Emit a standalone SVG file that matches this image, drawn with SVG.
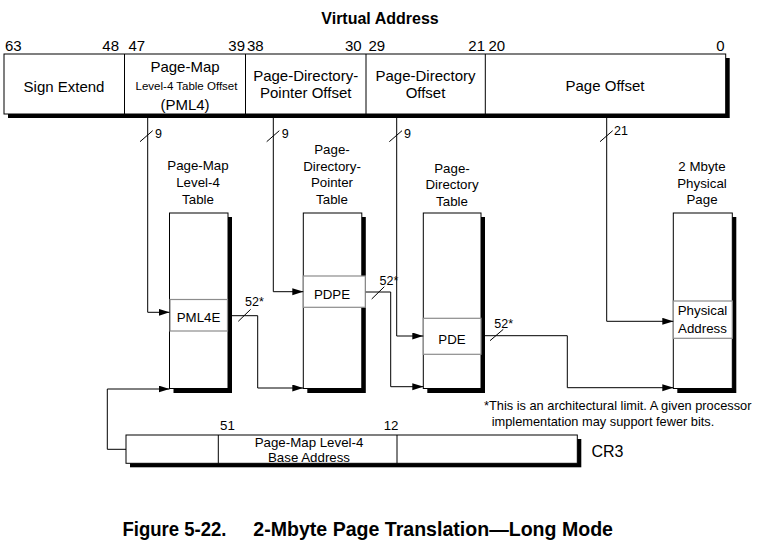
<svg xmlns="http://www.w3.org/2000/svg" width="768" height="549" viewBox="0 0 768 549">
<style>
.box{fill:#fff;stroke:#000;stroke-width:1}
.sh{fill:#000}
.entry{fill:#fff;stroke:#8c8c8c;stroke-width:1.2}
.t{font-family:"Liberation Sans",Arial,sans-serif;fill:#000}
.b15{font-size:15px}
.n14{font-size:15px}
.l13{font-size:13.3px}
.s12{font-size:12.5px}
.ln{fill:none;stroke:#000;stroke-width:1}
.mid{text-anchor:middle}
.end{text-anchor:end}
</style>
<defs>
<marker id="ah" markerUnits="userSpaceOnUse" markerWidth="11" markerHeight="8" refX="11" refY="3.5" orient="auto">
<path d="M0,0 L11,3.5 L0,7 z" fill="#000"/>
</marker>
</defs>
<rect width="768" height="549" fill="#fff"/>

<text class="t mid" x="380" y="24" font-size="16" font-weight="bold">Virtual Address</text>

<g id="virtual-address">
<rect class="sh" x="8" y="58" width="721.7" height="60"/>
<rect class="box" x="4" y="54" width="721.7" height="60"/>
<line class="ln" x1="124.5" y1="54" x2="124.5" y2="114"/>
<line class="ln" x1="245.5" y1="54" x2="245.5" y2="114"/>
<line class="ln" x1="366" y1="54" x2="366" y2="114"/>
<line class="ln" x1="485.3" y1="54" x2="485.3" y2="114"/>
<g class="t n14">
<text x="5" y="50.5">63</text>
<text class="end" x="119" y="50.5">48</text>
<text x="128.5" y="50.5">47</text>
<text class="end" x="245" y="50.5">39</text>
<text x="247" y="50.5">38</text>
<text class="end" x="361.7" y="50.5">30</text>
<text x="368.5" y="50.5">29</text>
<text class="end" x="485" y="50.5">21</text>
<text x="488.5" y="50.5">20</text>
<text class="end" x="724.7" y="50.5">0</text>
</g>
<g class="t b15 mid">
<text x="64" y="92">Sign Extend</text>
<text x="185" y="72">Page-Map</text>
<text x="186.5" y="90" font-size="11.5">Level-4 Table Offset</text>
<text x="185" y="110">(PML4)</text>
<text x="305.7" y="81">Page-Directory-</text>
<text x="305.7" y="98">Pointer Offset</text>
<text x="425.5" y="81">Page-Directory</text>
<text x="425.5" y="98">Offset</text>
<text x="605" y="91">Page Offset</text>
</g>
</g>

<g id="pml4-table">
<rect class="sh" x="173.5" y="217" width="58.5" height="176"/>
<rect class="box" x="169.5" y="213" width="58.5" height="175.5"/>
<rect class="entry" x="170" y="299.5" width="57.5" height="31.5"/>
<g class="t l13 mid">
<text x="198" y="170">Page-Map</text>
<text x="198" y="187">Level-4</text>
<text x="198" y="204">Table</text>
<text x="198.5" y="322">PML4E</text>
</g>
</g>

<g id="pdp-table">
<rect class="sh" x="307.3" y="217" width="58.5" height="176"/>
<rect class="box" x="303.3" y="213" width="58.5" height="175.5"/>
<rect class="entry" x="303.3" y="276" width="62" height="31.3"/>
<g class="t l13 mid">
<text x="332" y="154">Page-</text>
<text x="332" y="170.5">Directory-</text>
<text x="332" y="187">Pointer</text>
<text x="332" y="204">Table</text>
<text x="332" y="299">PDPE</text>
</g>
</g>

<g id="pd-table">
<rect class="sh" x="427.3" y="217" width="57.7" height="176"/>
<rect class="box" x="423.3" y="213" width="57.7" height="175.5"/>
<rect class="entry" x="423.3" y="318.3" width="57.7" height="36"/>
<g class="t l13 mid">
<text x="452" y="173">Page-</text>
<text x="452" y="189">Directory</text>
<text x="452" y="206">Table</text>
<text x="452" y="344">PDE</text>
</g>
</g>

<g id="physical-page">
<rect class="sh" x="677.3" y="217" width="59" height="176"/>
<rect class="box" x="673.3" y="213" width="59" height="175.5"/>
<rect class="entry" x="673.3" y="301" width="59" height="37.3"/>
<g class="t l13 mid">
<text x="702" y="171">2 Mbyte</text>
<text x="702" y="188">Physical</text>
<text x="702" y="204">Page</text>
<text x="702.5" y="315">Physical</text>
<text x="702.5" y="333">Address</text>
</g>
</g>

<g id="cr3">
<rect class="sh" x="130" y="439" width="451.3" height="28.3"/>
<rect class="box" x="126" y="435" width="451.3" height="28.3"/>
<line class="ln" x1="218.3" y1="435" x2="218.3" y2="463.3"/>
<line class="ln" x1="397" y1="435" x2="397" y2="463.3"/>
<g class="t l13">
<text x="220" y="430">51</text>
<text class="end" x="398.5" y="430">12</text>
<text class="mid" x="309" y="447">Page-Map Level-4</text>
<text class="mid" x="309" y="461.5">Base Address</text>
</g>
<text class="t" x="591.5" y="457" font-size="16">CR3</text>
</g>

<g id="connectors">
<polyline class="ln" points="147.7,118 147.7,312.3 169.5,312.3" marker-end="url(#ah)"/>
<polyline class="ln" points="273.3,118 273.3,291.7 303.3,291.7" marker-end="url(#ah)"/>
<polyline class="ln" points="396.7,118 396.7,336 423.3,336" marker-end="url(#ah)"/>
<polyline class="ln" points="606.7,118 606.7,321.3 673.3,321.3" marker-end="url(#ah)"/>
<polyline class="ln" points="232,315.7 257.7,315.7 257.7,388 303.3,388" marker-end="url(#ah)"/>
<polyline class="ln" points="365.8,292 390.7,292 390.7,386.7 423.3,386.7" marker-end="url(#ah)"/>
<polyline class="ln" points="485,335.7 567.3,335.7 567.3,387.7 673.3,387.7" marker-end="url(#ah)"/>
<polyline class="ln" points="126,449.3 107.3,449.3 107.3,389 169.5,389" marker-end="url(#ah)"/>
<line class="ln" x1="140" y1="141.7" x2="152.7" y2="130.7"/>
<line class="ln" x1="266.7" y1="141.7" x2="279.3" y2="130.7"/>
<line class="ln" x1="389.3" y1="141.7" x2="402" y2="130.7"/>
<line class="ln" x1="600" y1="141.7" x2="612.7" y2="130.7"/>
<line class="ln" x1="238.3" y1="321.3" x2="250.7" y2="309.3"/>
<line class="ln" x1="371.7" y1="299" x2="384.3" y2="286.7"/>
<line class="ln" x1="490" y1="340.7" x2="503.3" y2="329.3"/>
<g class="t s12">
<text x="155" y="138">9</text>
<text x="281.7" y="138">9</text>
<text x="404" y="138">9</text>
<text x="614" y="135">21</text>
<text x="245" y="305.5">52*</text>
<text x="379.5" y="284.5">52*</text>
<text x="494.3" y="327.5">52*</text>
</g>
</g>

<g class="t" font-size="12.8">
<text x="484" y="410">*This is an architectural limit. A given processor</text>
<text x="491.7" y="426">implementation may support fewer bits.</text>
</g>

<g class="t" font-size="20.5" font-weight="bold">
<text x="122.5" y="536" textLength="104" lengthAdjust="spacingAndGlyphs">Figure 5-22.</text>
<text x="253.3" y="536" textLength="359.7" lengthAdjust="spacingAndGlyphs">2-Mbyte Page Translation—Long Mode</text>
</g>
</svg>
